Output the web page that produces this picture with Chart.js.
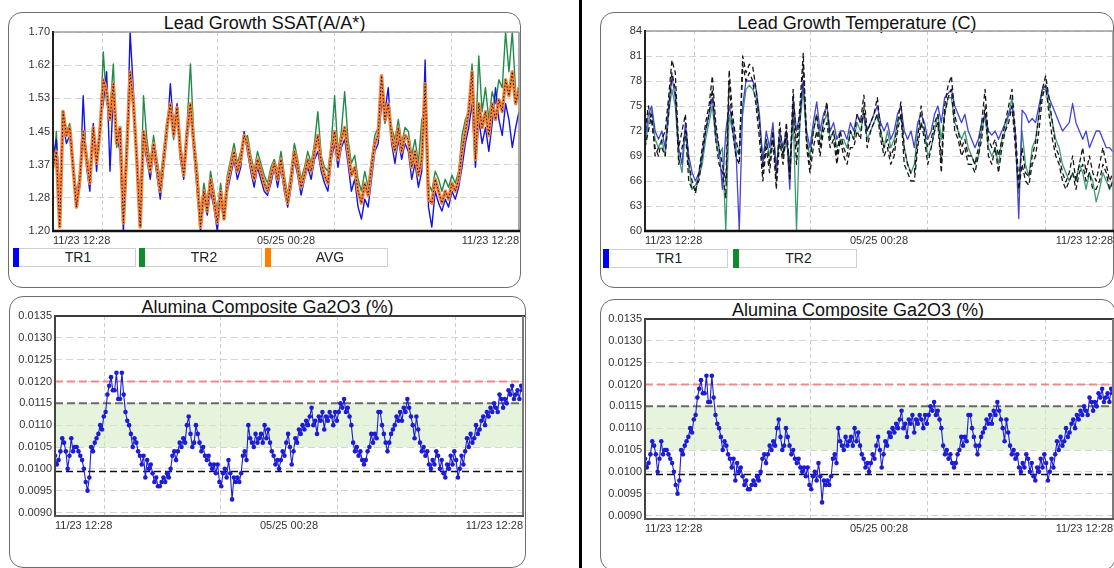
<!DOCTYPE html>
<html>
<head>
<meta charset="utf-8">
<script src="https://cdn.jsdelivr.net/npm/chart.js@4.4.1/dist/chart.umd.min.js"></script>
<style>
  html, body { margin: 0; padding: 0; background: #fff; width: 1114px; height: 568px; overflow: hidden; position: relative; font-family: "Liberation Sans", Arial, sans-serif; }
  .card { position: absolute; border: 1.6px solid #6e6e6e; border-radius: 14px; box-sizing: border-box; background: #fff; }
  .title { position: absolute; font-size: 18px; line-height: 20px; color: #111; text-align: center; white-space: nowrap; }
  canvas { position: absolute; }
  .leg { position: absolute; height: 19px; box-sizing: border-box; border: 1.5px solid #cfcfcf; font-size: 14px; line-height: 16px; text-align: center; color: #222; padding-left: 7px; background: #fff; }
  .leg i { position: absolute; left: -1px; top: -1px; bottom: -1px; width: 6px; }
  .sep { position: absolute; left: 579px; top: 0; width: 3px; height: 568px; background: #000; }
</style>
</head>
<body>
<div class="sep"></div>

<div class="card" style="left:8px;top:12px;width:513px;height:276px"></div>
<div class="title" style="left:8px;top:13px;width:513px">Lead Growth SSAT(A/A*)</div>
<canvas id="ssat"></canvas>
<div class="leg" style="left:13px;top:248px;width:123px"><i style="background:#0000ff"></i>TR1</div>
<div class="leg" style="left:139px;top:248px;width:123px"><i style="background:#0f8a2c"></i>TR2</div>
<div class="leg" style="left:265px;top:248px;width:123px"><i style="background:#ff7f00"></i>AVG</div>

<div class="card" style="left:600px;top:12px;width:514px;height:276px"></div>
<div class="title" style="left:600px;top:13px;width:514px">Lead Growth Temperature (C)</div>
<canvas id="temp"></canvas>
<div class="leg" style="left:603px;top:249px;width:125px"><i style="background:#0000ff"></i>TR1</div>
<div class="leg" style="left:733px;top:249px;width:124px"><i style="background:#0f8a2c"></i>TR2</div>

<div class="card" style="left:9px;top:296px;width:517px;height:272px"></div>
<div class="title" style="left:9px;top:297px;width:517px">Alumina Composite Ga2O3 (%)</div>
<canvas id="ga1"></canvas>

<div class="card" style="left:600px;top:299px;width:516px;height:272px"></div>
<div class="title" style="left:600px;top:300px;width:516px">Alumina Composite Ga2O3 (%)</div>
<canvas id="ga2"></canvas>

<script>
// ---- time axis labels (one year of runs) ----
const X_LABELS = ['11/23 12:28', '05/25 00:28', '11/23 12:28'];
// month-boundary grid lines, as a fraction of the plotted span
const GRID_FRACTIONS = [0.106, 0.353, 0.604, 0.855];

// ---- Lead Growth SSAT (A/A*) ----
const SSAT_TR1 = [
  1.38,1.43,1.30,1.47,1.42,1.44,1.35,1.30,1.31,1.54,
  1.36,1.30,1.47,1.35,1.47,1.52,1.60,1.35,1.55,1.44,
  1.40,1.20,1.38,1.70,1.55,1.36,1.30,1.42,1.38,1.33,
  1.40,1.34,1.28,1.36,1.44,1.57,1.46,1.52,1.38,1.33,
  1.43,1.50,1.40,1.30,1.20,1.28,1.24,1.30,1.26,1.20,
  1.28,1.24,1.30,1.34,1.38,1.33,1.36,1.45,1.40,1.35,
  1.31,1.36,1.33,1.30,1.29,1.32,1.36,1.31,1.36,1.30,
  1.26,1.31,1.38,1.34,1.29,1.33,1.36,1.33,1.38,1.40,
  1.35,1.32,1.30,1.38,1.42,1.36,1.41,1.43,1.37,1.30,
  1.33,1.26,1.23,1.28,1.26,1.33,1.40,1.42,1.52,1.50,
  1.56,1.42,1.37,1.43,1.38,1.42,1.40,1.33,1.37,1.31,
  1.35,1.63,1.26,1.21,1.30,1.27,1.25,1.28,1.26,1.30,
  1.28,1.31,1.36,1.42,1.46,1.52,1.36,1.48,1.42,1.46,
  1.40,1.47,1.56,1.48,1.44,1.52,1.48,1.41,1.46,1.50
];
const SSAT_TR2 = [
  1.34,1.45,1.24,1.48,1.45,1.47,1.38,1.28,1.35,1.44,
  1.40,1.34,1.45,1.40,1.44,1.65,1.52,1.50,1.62,1.41,
  1.46,1.24,1.42,1.58,1.50,1.40,1.25,1.54,1.43,1.37,
  1.44,1.38,1.33,1.40,1.48,1.50,1.43,1.50,1.42,1.36,
  1.47,1.62,1.44,1.36,1.24,1.32,1.27,1.35,1.30,1.25,
  1.32,1.25,1.34,1.38,1.42,1.37,1.40,1.43,1.44,1.39,
  1.35,1.40,1.37,1.34,1.32,1.36,1.38,1.35,1.40,1.34,
  1.29,1.35,1.42,1.38,1.33,1.36,1.40,1.37,1.42,1.50,
  1.39,1.36,1.35,1.42,1.54,1.40,1.45,1.55,1.43,1.37,
  1.39,1.33,1.30,1.35,1.31,1.38,1.44,1.46,1.58,1.47,
  1.50,1.46,1.43,1.48,1.42,1.46,1.45,1.39,1.43,1.37,
  1.48,1.50,1.32,1.30,1.35,1.33,1.30,1.33,1.31,1.34,
  1.32,1.35,1.44,1.48,1.50,1.62,1.42,1.64,1.50,1.56,
  1.48,1.55,1.52,1.58,1.56,1.70,1.60,1.70,1.55,1.53
];
const SSAT_AVG = [
  1.36,1.40,1.21,1.50,1.44,1.46,1.36,1.26,1.33,1.45,
  1.38,1.32,1.46,1.37,1.45,1.58,1.55,1.48,1.57,1.42,
  1.46,1.22,1.40,1.60,1.52,1.38,1.21,1.45,1.40,1.35,
  1.42,1.36,1.30,1.38,1.46,1.52,1.44,1.51,1.40,1.34,
  1.45,1.52,1.42,1.33,1.21,1.30,1.25,1.33,1.28,1.22,
  1.30,1.23,1.32,1.36,1.40,1.35,1.38,1.44,1.42,1.37,
  1.33,1.38,1.35,1.32,1.30,1.34,1.37,1.33,1.38,1.32,
  1.27,1.33,1.40,1.36,1.31,1.34,1.38,1.35,1.40,1.44,
  1.37,1.34,1.32,1.40,1.45,1.38,1.43,1.46,1.40,1.34,
  1.36,1.30,1.27,1.32,1.29,1.36,1.42,1.44,1.59,1.48,
  1.52,1.44,1.40,1.46,1.40,1.44,1.43,1.36,1.40,1.34,
  1.38,1.57,1.28,1.27,1.33,1.30,1.27,1.30,1.28,1.32,
  1.30,1.33,1.40,1.45,1.50,1.60,1.38,1.52,1.46,1.50,
  1.44,1.52,1.48,1.53,1.50,1.58,1.54,1.60,1.52,1.56
];
const SSAT_Y_TICKS = [1.20, 1.2833, 1.3667, 1.45, 1.5333, 1.6167, 1.70];

// ---- Lead Growth Temperature (C) ----
const TEMP_TR1 = [
  71,74,75,72,71,72,70,75,78.5,76,
  70,68,73,69,67,66,67,69,72,74,
  76,72,70,65,72,75,73,70,60,75,
  78,78,78,77,74,68,72,70,73,67,
  72,70,72,65,76,72,74,78,72,70,
  73,75.5,72,74,75,72,73,71,72,72,
  71,73,72,74,73,74,72,73,74,75,
  73,72,73,71,72,74,75,72,71,72,
  70,73,74,73,71,72,74,75,73,76,
  76.5,77,75,74,73,74,72,71,70,71,
  73,74,72,71.5,72,71,72,73,74,75,
  72,61.5,74.5,74,73,73.5,73,75,77,77.5,
  76,75,74,73,72,72.5,73,75.3,73,72,
  71,72,70,71,72,72,71,70,70,69.5
];
const TEMP_TR2 = [
  70,73,74.5,71,70,71,69,74,77,75,
  69,67,72,68,65,65.5,66.5,68,71,73,
  75,71,69,70,60,74,72,69,70,74,
  77,77.5,77,76,73,69,71,69,72,68,
  71,69,71,68,74,60,73,77,71,69,
  72,74,71,73,74,71,72,70,71,71,
  70,72,71,73,72,74,71,72,73,74,
  72,70,72,70,71,73,74,70,68,67,
  68,72,73,72,69,70,72,74,71,74,
  76,76,73,72,71,72,70,69,68,69,
  72,74,70,69,70,68,71,72,74,76,
  71,64.5,72,68,66.5,70,71,74,77,77,
  75,73,71,70,68,67,66,67,66,68,
  67,65,67,66,63.5,65,67,66,65,66
];
const TEMP_REF_A = [
  72,75,73,70,69,71,72,76,80.5,79,
  70,72,74,68,66,64.5,67,70,73,75,
  78.6,73,70,68,66,79.3,74,71,69,81,
  79,80,79.7,77,73,67,71,68,72,66,
  73,69,73,67,77,70,75,81.3,71,68,
  72,74,70,73,75.5,71,72,69,72,70,
  69,72,71,74,73,76.3,72,73,74,76,
  72,70,71,69,70,73,75.5,70,68,66.9,
  67,71,75,72,70,71,73,74,68.3,75,
  77.4,78.6,74,72,70,71,69,69,68,70,
  73,77,71,70,71,69,71,73,75,77,
  72,66,70,67,66.5,69,70.6,74,77,78.6,
  76,73,70,69,67,65.9,67,69,66,68,
  70,67,69,67,66,68,70,68,66,67
];
const TEMP_REF_B = [
  70,72,74,69,70,70,69,74,79,77,
  68,70,72,66,65,65,66,69,72,74,
  77,71,68,67,64,78,72,69,68,80,
  78,79,78,75,71,66,70,67,71,65,
  71,68,72,66,75,68,73,80,70,67,
  70,72,69,72,73,70,71,68,71,69,
  68,70,70,72,71,75,70,72,73,74,
  71,69,70,68,69,72,74,68,67,66,
  66,70,73,71,68,70,72,73,67,74,
  76,77,72,71,69,70,68,68,67,69,
  71,75,69,68,70,67,70,72,73,75,
  70,65,68,66,65.5,68,69,72,76,77.5,
  74,71,69,68,66,65,66,67,65,67,
  68,66,67,65,65,66,68,67,65,66
];
const TEMP_Y_TICKS = [60, 63, 66, 69, 72, 75, 78, 81, 84];

// ---- Alumina Composite Ga2O3 (%) ----
const GA2O3 = [
  0.0103,0.0101,0.0102,0.0104,0.0107,0.0106,0.0104,0.0100,0.0103,0.0107,
  0.0104,0.0105,0.0105,0.0104,0.0103,0.0102,0.0100,0.0097,0.0095,0.0098,
  0.0105,0.0104,0.0106,0.0107,0.0108,0.0110,0.0109,0.0112,0.0113,0.0117,
  0.0119,0.0121,0.0118,0.0118,0.0122,0.0116,0.0116,0.0122,0.0117,0.0113,
  0.0111,0.0110,0.0108,0.0105,0.0107,0.0106,0.0104,0.0103,0.0101,0.0103,
  0.0098,0.0102,0.0100,0.0101,0.0099,0.0097,0.0098,0.0096,0.0096,0.0097,
  0.0098,0.0097,0.0099,0.0098,0.0100,0.0103,0.0104,0.0102,0.0104,0.0106,
  0.0105,0.0107,0.0106,0.0110,0.0112,0.0108,0.0105,0.0106,0.0110,0.0108,
  0.0106,0.0104,0.0105,0.0103,0.0102,0.0103,0.0101,0.0100,0.0101,0.0099,
  0.0101,0.0097,0.0096,0.0099,0.0100,0.0098,0.0102,0.0099,0.0093,0.0098,
  0.0097,0.0098,0.0097,0.0099,0.0103,0.0104,0.0102,0.0110,0.0107,0.0106,
  0.0105,0.0108,0.0106,0.0107,0.0108,0.0106,0.0110,0.0107,0.0109,0.0106,
  0.0104,0.0103,0.0101,0.0102,0.0100,0.0102,0.0104,0.0103,0.0106,0.0108,
  0.0105,0.0101,0.0104,0.0107,0.0106,0.0109,0.0108,0.0110,0.0109,0.0111,
  0.0110,0.0112,0.0114,0.0110,0.0111,0.0108,0.0112,0.0111,0.0113,0.0109,
  0.0112,0.0111,0.0113,0.0112,0.0110,0.0113,0.0111,0.0113,0.0115,0.0114,
  0.0116,0.0113,0.0114,0.0112,0.0110,0.0106,0.0104,0.0105,0.0103,0.0104,
  0.0102,0.0101,0.0102,0.0104,0.0105,0.0108,0.0106,0.0108,0.0107,0.0113,
  0.0113,0.0110,0.0108,0.0106,0.0104,0.0106,0.0108,0.0109,0.0110,0.0112,
  0.0111,0.0113,0.0111,0.0114,0.0113,0.0116,0.0114,0.0112,0.0110,0.0107,
  0.0112,0.0109,0.0106,0.0104,0.0105,0.0103,0.0104,0.0101,0.0100,0.0102,
  0.0101,0.0104,0.0103,0.0100,0.0102,0.0099,0.0098,0.0101,0.0100,0.0103,
  0.0101,0.0104,0.0102,0.0098,0.0100,0.0103,0.0101,0.0104,0.0107,0.0105,
  0.0108,0.0106,0.0107,0.0110,0.0108,0.0109,0.0111,0.0112,0.0110,0.0113,
  0.0112,0.0114,0.0113,0.0115,0.0114,0.0113,0.0117,0.0116,0.0114,0.0116,
  0.0115,0.0118,0.0117,0.0119,0.0116,0.0117,0.0118,0.0116,0.0119,0.0118
];
const GA2O3_Y_TICKS = [0.0090, 0.0095, 0.0100, 0.0105, 0.0110, 0.0115, 0.0120, 0.0125, 0.0130, 0.0135];
const GA2O3_UPPER_LIMIT = 0.0120;
const GA2O3_TARGET_HIGH = 0.0115;
const GA2O3_TARGET_LOW = 0.0105;
const GA2O3_LOWER_LIMIT = 0.00994;

// ---------------------------------------------------------------
const FONT = '"Liberation Sans", Arial, sans-serif';
Chart.defaults.font.family = FONT;

const Y_AXIS_W = 45, X_AXIS_H = 20, PAD_T = 10, PAD_R = 4;

// Place a canvas so that its plot area sits on the given page rectangle.
function place(canvas, area) {
  canvas.style.left = (area.l - Y_AXIS_W) + 'px';
  canvas.style.top = (area.t - PAD_T) + 'px';
  canvas.width = area.r - area.l + Y_AXIS_W + PAD_R;
  canvas.height = area.b - area.t + PAD_T + X_AXIS_H;
}

const xy = arr => arr.map((v, i) => ({ x: i, y: v }));
const flat = (n, v) => [{ x: 0, y: v }, { x: n - 1, y: v }];

function timeAxis(n) {
  const last = n - 1, mid = last / 2;
  const grid = GRID_FRACTIONS.map(f => f * last);
  const values = [0, mid, last].concat(grid).sort((a, b) => a - b);
  return {
    type: 'linear', min: 0, max: last,
    afterBuildTicks: s => { s.ticks = values.map(v => ({ value: v })); },
    ticks: {
      autoSkip: false, maxRotation: 0, minRotation: 0, align: 'inner', padding: 3,
      color: '#333', font: { family: FONT, size: 11 },
      callback: v => v === 0 ? X_LABELS[0] : v === mid ? X_LABELS[1] : v === last ? X_LABELS[2] : ''
    },
    grid: {
      drawTicks: false, lineWidth: 1,
      color: c => (c.tick && grid.includes(c.tick.value)) ? '#cdcdcd' : 'rgba(0,0,0,0)'
    },
    border: { display: false, dash: [4, 3] },
    afterFit: s => { s.height = X_AXIS_H; }
  };
}

function valueAxis(min, max, ticks, digits) {
  return {
    min, max,
    afterBuildTicks: s => { s.ticks = ticks.map(v => ({ value: v })); },
    ticks: { autoSkip: false, padding: 3, color: '#333', font: { family: FONT, size: 11 }, callback: v => v.toFixed(digits) },
    grid: { drawTicks: false, color: '#d4d4d4', lineWidth: 1 },
    border: { display: false, dash: [7, 4] },
    afterFit: s => { s.width = Y_AXIS_W; }
  };
}

// Plot frame: title rule on top, axis lines left and bottom.
const framePlugin = {
  id: 'frame',
  afterDatasetsDraw(chart, args, o) {
    const { ctx, chartArea: a } = chart;
    const line = (x1, y1, x2, y2, c, w) => {
      ctx.save(); ctx.strokeStyle = c; ctx.lineWidth = w;
      ctx.beginPath(); ctx.moveTo(x1, y1); ctx.lineTo(x2, y2); ctx.stroke(); ctx.restore();
    };
    line(a.left, a.top, a.right + o.topExtend, a.top, o.topColor, o.topWidth);
    line(a.right, a.top, a.right, a.bottom, o.rightColor, o.rightWidth);
    line(a.left, a.top - 1, a.left, a.bottom, o.leftColor, o.leftWidth);
    line(a.left - 1, a.bottom, a.right + 1, a.bottom, o.bottomColor, o.bottomWidth);
  }
};

const LIGHT_FRAME = { topExtend: 0, topColor: '#9c9c9c', topWidth: 1.5, rightColor: '#8c8c8c', rightWidth: 1.5, leftColor: '#222', leftWidth: 2, bottomColor: '#111', bottomWidth: 2.6 };
const DARK_FRAME = { topExtend: 2, topColor: '#3a3a3a', topWidth: 2, rightColor: '#7a7a7a', rightWidth: 2, leftColor: '#444', leftWidth: 2, bottomColor: '#555', bottomWidth: 2 };

function baseOptions(xAxis, yAxis, frame) {
  return {
    responsive: false, animation: false, devicePixelRatio: 1,
    layout: { padding: { top: PAD_T, right: PAD_R, left: 0, bottom: 0 } },
    elements: { point: { radius: 0 }, line: { tension: 0, borderJoinStyle: 'round' } },
    plugins: { legend: { display: false }, tooltip: { enabled: false }, frame },
    scales: { x: xAxis, y: yAxis }
  };
}

// ---- SSAT chart ----
(function () {
  const cv = document.getElementById('ssat');
  place(cv, { l: 53, t: 32, r: 519, b: 231 });
  const n = SSAT_AVG.length;
  new Chart(cv, {
    type: 'line',
    data: {
      datasets: [
        { label: 'AVG trace', data: xy(SSAT_AVG), borderColor: '#111', borderWidth: 1, borderDash: [1.5, 2] },
        { label: 'AVG', data: xy(SSAT_AVG), borderColor: '#f7833b', borderWidth: 3.5 },
        { label: 'TR1', data: xy(SSAT_TR1), borderColor: '#1212ee', borderWidth: 1.4 },
        { label: 'TR2', data: xy(SSAT_TR2), borderColor: '#218b47', borderWidth: 1.4 }
      ]
    },
    options: baseOptions(timeAxis(n), valueAxis(1.20, 1.70, SSAT_Y_TICKS, 2), LIGHT_FRAME),
    plugins: [framePlugin]
  });
})();

// ---- Temperature chart ----
(function () {
  const cv = document.getElementById('temp');
  place(cv, { l: 645, t: 31, r: 1113, b: 231 });
  const n = TEMP_TR1.length;
  new Chart(cv, {
    type: 'line',
    data: {
      datasets: [
        { label: 'REF A', data: xy(TEMP_REF_A), borderColor: '#161616', borderWidth: 1.3, borderDash: [5, 3] },
        { label: 'REF B', data: xy(TEMP_REF_B), borderColor: '#161616', borderWidth: 1.3, borderDash: [5, 3] },
        { label: 'TR1', data: xy(TEMP_TR1), borderColor: '#4444d8', borderWidth: 1.3 },
        { label: 'TR2', data: xy(TEMP_TR2), borderColor: '#3d9c74', borderWidth: 1.3 }
      ]
    },
    options: baseOptions(timeAxis(n), valueAxis(60, 84, TEMP_Y_TICKS, 0), LIGHT_FRAME),
    plugins: [framePlugin]
  });
})();

// ---- Ga2O3 control charts ----
function gaChart(id, area) {
  const cv = document.getElementById(id);
  place(cv, area);
  const n = GA2O3.length;
  new Chart(cv, {
    type: 'line',
    data: {
      datasets: [
        { label: 'Ga2O3', data: xy(GA2O3), borderColor: '#1c1cd6', borderWidth: 1.1,
          pointRadius: 2.3, pointBackgroundColor: '#1c1cd6', pointBorderWidth: 0 },
        { label: 'Upper limit', data: flat(n, GA2O3_UPPER_LIMIT), borderColor: '#f08a8a', borderWidth: 2, borderDash: [8, 4] },
        { label: 'Lower limit', data: flat(n, GA2O3_LOWER_LIMIT), borderColor: '#111', borderWidth: 1.5, borderDash: [7, 4] },
        { label: 'Target', data: flat(n, GA2O3_TARGET_HIGH), borderColor: '#6a6a6a', borderWidth: 2, borderDash: [8, 4],
          fill: { value: GA2O3_TARGET_LOW }, backgroundColor: 'rgba(214,236,200,0.6)' }
      ]
    },
    options: baseOptions(timeAxis(n), valueAxis(0.00892, 0.0135, GA2O3_Y_TICKS, 4), DARK_FRAME),
    plugins: [framePlugin]
  });
}
gaChart('ga1', { l: 55, t: 316, r: 523, b: 516 });
gaChart('ga2', { l: 645, t: 319, r: 1113, b: 519 });
</script>
</body>
</html>
